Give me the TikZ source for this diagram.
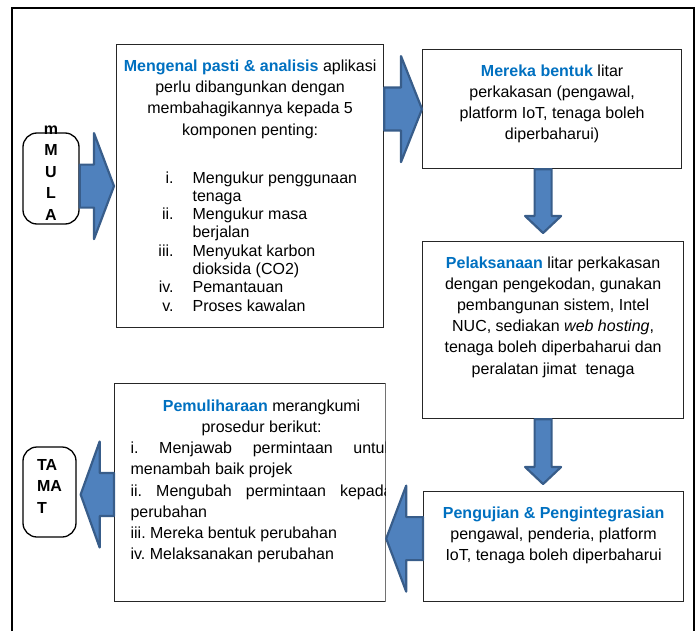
\documentclass[tikz,border=0pt]{standalone}
\usepackage{fontspec}
\setmainfont{Liberation Sans}
\usetikzlibrary{calc}
\definecolor{titleblue}{RGB}{0,112,192}
\definecolor{arrowfill}{RGB}{79,129,189}
\definecolor{arrowedge}{RGB}{56,93,138}
\frenchspacing
\begin{document}
\begin{tikzpicture}[x=1pt,y=-1pt,
    stage/.style={draw=black!85, line width=1.2pt, anchor=north west, inner ysep=0pt, inner xsep=10pt, font=\fontsize{16}{21.2}\selectfont},
    terminal/.style={draw, line width=1.3pt, rounded corners=14pt, inner sep=0pt, font=\bfseries\fontsize{16}{21.5}\selectfont},
    blockarrow/.style={draw=arrowedge, fill=arrowfill, line width=2.2pt, line join=round}]
    \useasboundingbox (0,0) rectangle (700,631);

    % bingkai luar
    \draw[line width=1.8pt] (12,631) -- (12,8) -- (694,8) -- (694,631);

    \node[terminal, minimum width=56pt, minimum height=91pt] (mula) at (51,178.5)
        {\raisebox{1pt}[0pt][0pt]{\begin{tabular}{@{}c@{}}m\\M\\U\\L\\A\end{tabular}}};
    \node[terminal, minimum width=53pt, minimum height=90pt] (tamat) at (49.5,492)
        {\raisebox{0pt}[0pt][0pt]{\begin{tabular}{@{}l@{}}TA\\MA\\T\end{tabular}}};

    \node[stage, inner xsep=6pt] (kenal) at (116,44) {\begin{minipage}[b][283pt][t]{255pt}\vspace*{15pt}
        {\centering\fontsize{16}{21.3}\selectfont
        \textcolor{titleblue}{\bfseries Mengenal pasti \& analisis} aplikasi\\
        perlu dibangunkan dengan\\
        membahagikannya kepada 5\\
        komponen penting:\par}
        \vspace{29.7pt}
        {\fontsize{16}{18.3}\selectfont
        \makebox[51pt][r]{i.}\hspace{19pt}Mengukur penggunaan\\
        \hspace*{70pt}tenaga\\
        \makebox[51pt][r]{ii.}\hspace{19pt}Mengukur masa\\
        \hspace*{70pt}berjalan\\
        \makebox[51pt][r]{iii.}\hspace{19pt}Menyukat karbon\\
        \hspace*{70pt}dioksida (CO2)\\
        \makebox[51pt][r]{iv.}\hspace{19pt}Pemantauan\\
        \makebox[51pt][r]{v.}\hspace{19pt}Proses kawalan\par}
        \end{minipage}};

    \node[stage] (reka) at (422,49) {\begin{minipage}[b][119pt][t]{239pt}\vspace*{15pt}
        \centering
        \textcolor{titleblue}{\bfseries Mereka bentuk} litar\\
        perkakasan (pengawal,\\
        platform IoT, tenaga boleh\\
        diperbaharui)
        \end{minipage}};

    \node[stage] (laksana) at (422,241) {\begin{minipage}[b][177pt][t]{241pt}\vspace*{15pt}
        \centering
        \textcolor{titleblue}{\bfseries Pelaksanaan} litar perkakasan\\
        dengan pengekodan, gunakan\\
        pembangunan sistem, Intel\\
        NUC, sediakan \textit{web hosting},\\
        tenaga boleh diperbaharui dan\\
        peralatan jimat\ \ tenaga
        \end{minipage}};

    \node[stage] (uji) at (423,491) {\begin{minipage}[b][110pt][t]{240pt}\vspace*{15pt}
        \centering
        \textcolor{titleblue}{\bfseries Pengujian \& Pengintegrasian}\\
        pengawal, penderia, platform\\
        IoT, tenaga boleh diperbaharui
        \end{minipage}};

    \begin{scope}
        \clip (113.4,382.4) rectangle (385.6,601.6);
        \node[stage, inner xsep=0pt] (pelihara) at (114,383) {\hspace*{16pt}\makebox[255pt][l]{\begin{minipage}[b][218pt][t]{262pt}\vspace*{16pt}
            {\centering
            \textcolor{titleblue}{\bfseries Pemuliharaan} merangkumi\\
            prosedur berikut:\par}
            \makebox[\linewidth][s]{i. Menjawab permintaan untuk}\\
            menambah baik projek\\
            \makebox[\linewidth][s]{ii. Mengubah permintaan kepada}\\
            perubahan\\
            iii. Mereka bentuk perubahan\\
            iv. Melaksanakan perubahan
            \end{minipage}}};
    \end{scope}

    % hujung anak panah
    \coordinate (mulaout) at (mula.east |- kenal.west);
    \coordinate (mulatip) at ($(kenal.west)+(-2,0)$);
    \coordinate (kenalout) at (kenal.east |- reka.west);
    \coordinate (ujiout) at ($(uji.west)+(0,-8)$);
    \coordinate (peliharaout) at ($(pelihara.west |- tamat.east)+(0,2.5)$);
    \coordinate (tamattip) at ($(tamat.east)+(4,0)$);
    \coordinate (rekaout) at ($(reka.south)+(-9,0)$);
    \coordinate (laksanatip) at ($(laksana.north)+(-9,-8)$);
    \coordinate (laksanaout) at ($(laksana.south)+(-10,0)$);
    \coordinate (ujitip) at ($(uji.north)+(-10.5,-7)$);

    \foreach \s/\t/\hlen in {mulaout/mulatip/20, kenalout/reka.west/21, ujiout/pelihara.east/-20, peliharaout/tamattip/-19}
        \draw[blockarrow] let \p1=(\s), \p2=(\t) in
            (\x1,\y1+21.5pt) -- ({\x2-(\hlen pt)},\y1+21.5pt) -- ({\x2-(\hlen pt)},\y1+53pt) -- (\x2,\y1)
            -- ({\x2-(\hlen pt)},\y1-53pt) -- ({\x2-(\hlen pt)},\y1-21.5pt) -- (\x1,\y1-21.5pt) -- cycle;

    \foreach \s/\t in {rekaout/laksanatip, laksanaout/ujitip}
        \draw[blockarrow] let \p1=(\s), \p2=(\t) in
            (\x1-8.5pt,\y1) -- (\x1-8.5pt,\y2+17pt) -- (\x1-18pt,\y2+17pt) -- (\x1,\y2)
            -- (\x1+18pt,\y2+17pt) -- (\x1+8.5pt,\y2+17pt) -- (\x1+8.5pt,\y1) -- cycle;
\end{tikzpicture}
\end{document}
